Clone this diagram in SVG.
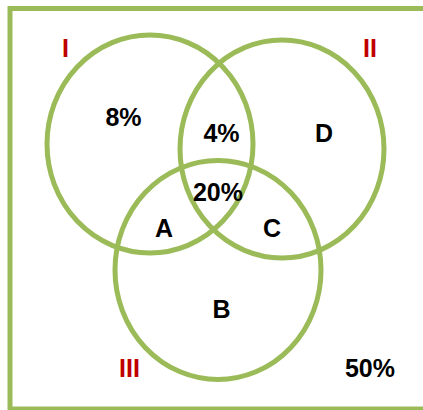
<svg xmlns="http://www.w3.org/2000/svg" width="423" height="410" viewBox="0 0 423 410">
  <style>
    .frame { fill: none; stroke: #9BBB59; stroke-width: 5; }
    .set { fill: none; stroke: #9BBB59; stroke-width: 5; }
    .lbl { font-family: "Liberation Sans", Arial, sans-serif; font-weight: bold; font-size: 25px; fill: #000000; text-anchor: middle; }
    .num { font-family: "Liberation Sans", Arial, sans-serif; font-weight: bold; font-size: 25px; fill: #C00000; text-anchor: middle; }
  </style>
  <rect width="423" height="410" fill="#FFFFFF"/>
  <g id="universe">
    <rect class="frame" x="10" y="8.5" width="420" height="400.5"/>
    <text class="lbl" x="370" y="377">50%</text>
  </g>
  <g id="set-I">
    <ellipse class="set" cx="150" cy="144" rx="103" ry="109"/>
    <text class="num" x="65.5" y="57">I</text>
  </g>
  <g id="set-II">
    <ellipse class="set" cx="282" cy="149" rx="102" ry="109"/>
    <text class="num" x="370" y="57">II</text>
  </g>
  <g id="set-III">
    <ellipse class="set" cx="218" cy="270" rx="103" ry="109.5"/>
    <text class="num" x="129.5" y="377">III</text>
  </g>
  <g id="regions">
    <text class="lbl" x="123.5" y="126">8%</text>
    <text class="lbl" x="221.5" y="142">4%</text>
    <text class="lbl" x="324" y="142">D</text>
    <text class="lbl" x="218" y="201">20%</text>
    <text class="lbl" x="164" y="237">A</text>
    <text class="lbl" x="272" y="237">C</text>
    <text class="lbl" x="221.5" y="318">B</text>
  </g>
  <g id="connectors"></g>
</svg>
